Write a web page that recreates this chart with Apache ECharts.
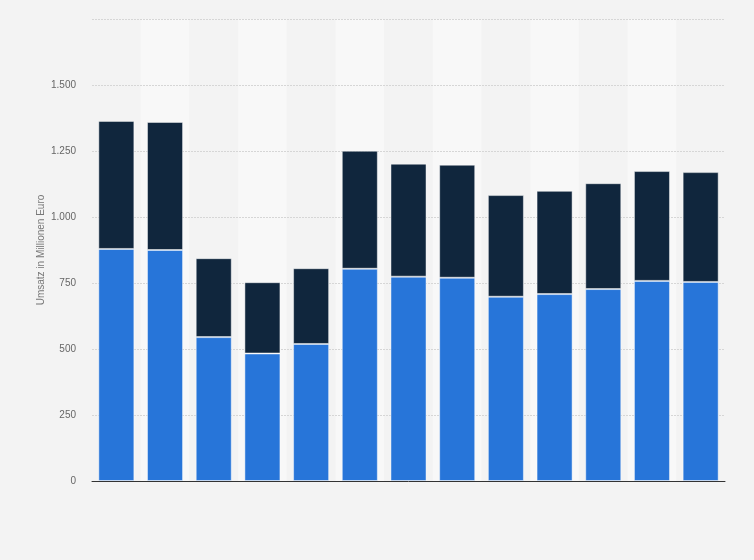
<!DOCTYPE html>
<html>
<head>
<meta charset="utf-8">
<script src="https://cdn.jsdelivr.net/npm/echarts@6/dist/echarts.min.js"></script>
<style>
	html, body { margin: 0; padding: 0; background: #f3f3f3; }
	#chart { width: 754px; height: 560px; }
</style>
</head>
<body>
<div id="chart"></div>
<script>
	// Kategorien (Achsenbeschriftung im Original nicht sichtbar)
	var categories = ['2008', '2009', '2010', '2011', '2012', '2013', '2014', '2015', '2016', '2017', '2018', '2019', '2020'];
	// unterer Anteil (blau)
	var lowerValues = [879, 875, 545, 483, 519, 804, 774, 770, 698, 708, 727, 758, 754];
	// Gesamtwert je Balken, dunkler Anteil = Gesamt - blau
	var totalValues = [1364, 1360, 844, 753, 806, 1251, 1202, 1198, 1083, 1099, 1128, 1174, 1170];
	var upperValues = totalValues.map(function (t, i) { return t - lowerValues[i]; });

	var yTicks = { min: 0, max: 1750, interval: 250 };

	function formatDe(v) {
		// Tausenderpunkt wie im Original
		return String(v).replace(/\B(?=(\d{3})+(?!\d))/g, '.');
	}

	var chart = echarts.init(document.getElementById('chart'));
	var option = {
		backgroundColor: '#f3f3f3',
		animation: false,
		textStyle: { fontFamily: 'Liberation Sans, Arial, sans-serif' },
		grid: { left: 92, right: 29, top: 19, bottom: 79 },
		xAxis: {
			type: 'category',
			data: categories,
			boundaryGap: true,
			z: 0,
			axisTick: { show: false },
			axisLabel: { show: false },
			axisLine: { show: true, lineStyle: { color: '#333333', width: 1 } },
			splitArea: {
				show: true,
				areaStyle: { color: ['rgba(0,0,0,0)', '#f8f8f8'] }
			}
		},
		yAxis: {
			type: 'value',
			min: yTicks.min,
			max: yTicks.max,
			interval: yTicks.interval,
			z: 1,
			name: 'Umsatz in Millionen Euro',
			nameLocation: 'middle',
			nameGap: 46,
			nameMoveOverlap: false,
			nameTextStyle: { color: '#777777', fontSize: 10 },
			axisLine: { show: false },
			axisTick: { show: false },
			axisLabel: {
				color: '#666666',
				fontSize: 10,
				margin: 16,
				showMaxLabel: false,
				formatter: function (v) { return v === yTicks.max ? '' : formatDe(v); }
			},
			splitLine: { show: true, showMinLine: false, lineStyle: { color: '#d6d6d6', type: [2, 1], width: 1 } }
		},
		series: [
			{
				name: 'unten',
				type: 'bar',
				stack: 'umsatz',
				data: lowerValues,
				barCategoryGap: '26%',
				itemStyle: { color: '#2775d9', borderColor: 'rgba(255,255,255,0.45)', borderWidth: 1 }
			},
			{
				name: 'oben',
				type: 'bar',
				stack: 'umsatz',
				data: upperValues,
				barCategoryGap: '26%',
				itemStyle: { color: '#10263d', borderColor: 'rgba(255,255,255,0.45)', borderWidth: 1 }
			}
		]
	};
	chart.setOption(option);
</script>
</body>
</html>
